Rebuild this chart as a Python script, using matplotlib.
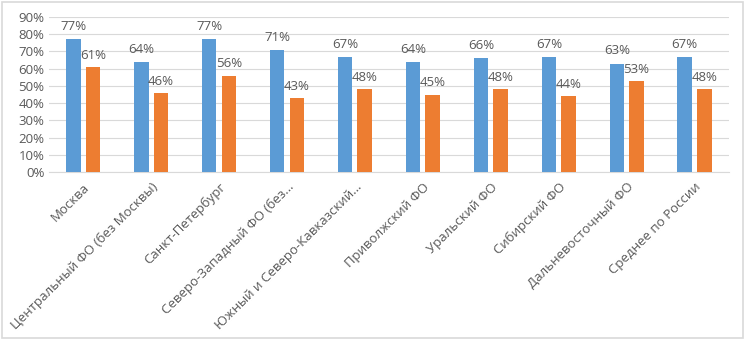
import numpy as np
import matplotlib.pyplot as plt
from matplotlib.ticker import PercentFormatter

plt.rcParams['font.family'] = ['Open Sans', 'DejaVu Sans']

categories = ['Москва', 'Центральный ФО (без Москвы)', 'Санкт-Петербург',
              'Северо-Западный ФО (без…', 'Южный и Северо-Кавказский…',
              'Приволжский ФО', 'Уральский ФО', 'Сибирский ФО',
              'Дальневосточный ФО', 'Среднее по России']
series1 = [77, 64, 77, 71, 67, 64, 66, 67, 63, 67]
series2 = [61, 46, 56, 43, 48, 45, 48, 44, 53, 48]

blue = '#5B9BD5'
orange = '#ED7D31'
gray = '#595959'

fig = plt.figure(figsize=(7.45, 3.4), dpi=100)
ax = fig.add_axes([0.066, 0.494, 0.912, 0.456])

x = np.arange(len(categories))
w = 0.215
off = 0.145
ax.bar(x - off, series1, w, color=blue, zorder=3)
ax.bar(x + off, series2, w, color=orange, zorder=3)

for xi, v in zip(x, series1):
    ax.text(xi - off, v + 3.5, f'{v}%', ha='center', va='bottom', fontsize=9.5, color=gray, zorder=4)
for xi, v in zip(x, series2):
    ax.text(xi + off, v + 3.0, f'{v}%', ha='center', va='bottom', fontsize=9.5, color=gray, zorder=4)

ax.set_ylim(0, 90)
ax.set_xlim(-0.5, len(categories) - 0.5)
ax.set_yticks(range(0, 91, 10))
ax.yaxis.set_major_formatter(PercentFormatter(decimals=0))
ax.grid(axis='y', color='#D9D9D9', linewidth=0.8, zorder=0)
for s in ['top', 'right', 'left']:
    ax.spines[s].set_visible(False)
ax.spines['bottom'].set_color('#D9D9D9')
ax.tick_params(axis='both', length=0, labelsize=9.5, colors=gray)
ax.tick_params(axis='x', pad=6)
ax.set_xticks(x)
ax.set_xticklabels(categories, rotation=45, ha='right', rotation_mode='anchor')

fig.patches.append(plt.Rectangle((0.003, 0.005), 0.994, 0.99, transform=fig.transFigure,
                                 fill=False, edgecolor='#D9D9D9', linewidth=1.2))

fig.savefig('out.png', dpi=100)
